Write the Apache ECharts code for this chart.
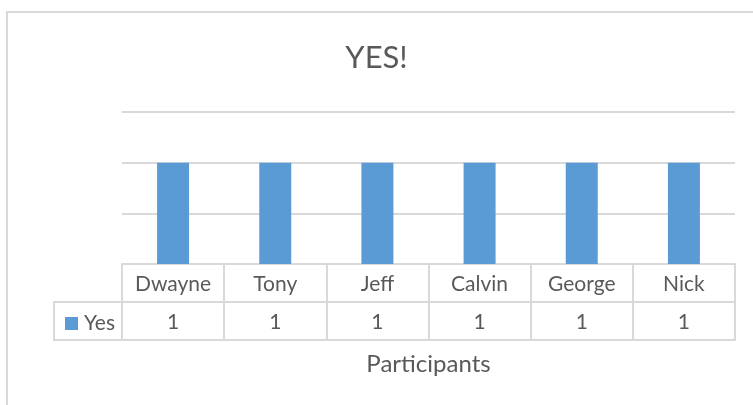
<!DOCTYPE html>
<html>
<head>
<meta charset="utf-8">
<script src="https://cdn.jsdelivr.net/npm/echarts@6/dist/echarts.min.js"></script>
<style>
  html, body { margin: 0; padding: 0; background: #fff; }
  #chart { width: 753px; height: 405px; }
</style>
</head>
<body>
<div id="chart"></div>
<script>
// Participants and their "Yes" counts
const participants = ['Dwayne', 'Tony', 'Jeff', 'Calvin', 'George', 'Nick'];
const yesValues = [1, 1, 1, 1, 1, 1];
const seriesName = 'Yes';
const chartTitle = 'YES!';
const axisTitle = 'Participants';

const TEXT = '#595959';
const LINE = '#d9d9d9';
const BAR = '#5b9bd5';
const FONT = 'Lato';

const chart = echarts.init(document.getElementById('chart'), null, { renderer: 'canvas' });

const labelStyle = { interval: 0, margin: 20, verticalAlign: 'middle', color: TEXT, fontFamily: FONT, fontSize: 21 };

const tableAxis = (offset, labelExtra) => ({
  type: 'category',
  data: participants,
  position: 'bottom',
  offset: offset,
  axisLine: { show: true, lineStyle: { color: LINE, width: 2 } },
  axisTick: { show: true, interval: 0, alignWithLabel: false, length: 38, lineStyle: { color: LINE, width: 2 } },
  axisLabel: Object.assign({}, labelStyle, labelExtra),
  splitLine: { show: false }
});

chart.setOption({
  animation: false,
  title: {
    text: chartTitle,
    left: 'center',
    top: 37,
    textStyle: { color: TEXT, fontFamily: FONT, fontSize: 31, fontWeight: 400 }
  },
  legend: {
    data: [seriesName],
    left: 60,
    top: 308,
    icon: 'rect',
    itemWidth: 13,
    itemHeight: 13,
    itemGap: 0,
    textStyle: { color: TEXT, fontFamily: FONT, fontSize: 21, padding: [0, 0, 0, 1] }
  },
  grid: { left: 122, right: 18, top: 112, height: 152, containLabel: false },
  xAxis: [
    tableAxis(0, {}),
    tableAxis(38, { formatter: (v, i) => String(yesValues[i]) }),
    {
      type: 'category',
      data: participants,
      position: 'bottom',
      offset: 76,
      axisLine: { show: true, lineStyle: { color: LINE, width: 2 } },
      axisTick: { show: false },
      axisLabel: { show: false },
      name: axisTitle,
      nameLocation: 'middle',
      nameGap: 12,
      nameTextStyle: { color: TEXT, fontFamily: FONT, fontSize: 24, verticalAlign: 'top' }
    }
  ],
  yAxis: {
    type: 'value',
    min: 0,
    max: 1.5,
    interval: 0.5,
    axisLine: { show: false },
    axisTick: { show: false },
    axisLabel: { show: false },
    splitLine: { show: true, lineStyle: { color: LINE, width: 2 } }
  },
  series: [{
    name: seriesName,
    type: 'bar',
    xAxisIndex: 0,
    data: yesValues,
    barWidth: 32,
    itemStyle: { color: BAR }
  }],
  graphic: [
    {
      type: 'rect',
      shape: { x: 7, y: 12, width: 900, height: 500 },
      style: { fill: null, stroke: LINE, lineWidth: 2 },
      silent: true
    },
    {
      type: 'rect',
      shape: { x: 54, y: 302, width: 68, height: 38 },
      style: { fill: null, stroke: LINE, lineWidth: 2 },
      silent: true
    }
  ]
});
</script>
</body>
</html>
